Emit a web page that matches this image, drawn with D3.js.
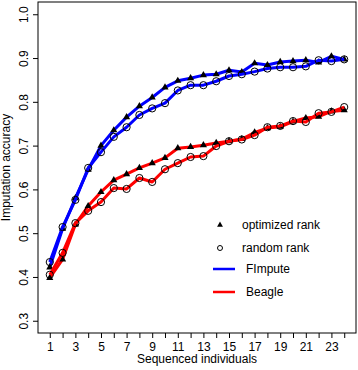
<!DOCTYPE html>
<html>
<head>
<meta charset="utf-8">
<script src="https://cdn.jsdelivr.net/npm/d3@7"></script>
<style>
  body { margin: 0; background: #fff; }
  svg { display: block; font-family: "Liberation Sans", Arial, sans-serif; }
</style>
</head>
<body>
<div id="chart"><svg></svg></div>
<script>
const individuals = d3.range(1, 25);
const xTickLabels = [1, 3, 5, 7, 9, 11, 13, 15, 17, 19, 21, 23];
const yTicks = [0.3, 0.4, 0.5, 0.6, 0.7, 0.8, 0.9, 1.0];

const fimputeOptimized = [0.422, 0.510, 0.580, 0.645, 0.700, 0.735, 0.765, 0.790, 0.810, 0.833, 0.848, 0.854,
  0.861, 0.863, 0.872, 0.868, 0.888, 0.884, 0.891, 0.893, 0.895, 0.890, 0.904, 0.897];
const fimputeRandom = [0.434, 0.514, 0.576, 0.649, 0.685, 0.720, 0.742, 0.770, 0.785, 0.797, 0.826, 0.838,
  0.838, 0.847, 0.859, 0.863, 0.869, 0.876, 0.879, 0.879, 0.881, 0.895, 0.893, 0.897];
const beagleOptimized = [0.398, 0.440, 0.520, 0.562, 0.594, 0.621, 0.635, 0.649, 0.660, 0.672, 0.694, 0.697,
  0.701, 0.706, 0.710, 0.715, 0.730, 0.740, 0.743, 0.755, 0.763, 0.766, 0.778, 0.781];
const beagleRandom = [0.405, 0.455, 0.523, 0.551, 0.571, 0.603, 0.601, 0.626, 0.617, 0.646, 0.660, 0.674,
  0.676, 0.699, 0.710, 0.714, 0.724, 0.742, 0.745, 0.756, 0.754, 0.774, 0.777, 0.788];

const margin = { top: 2, right: 2, bottom: 37, left: 38 },
  width = 358 - margin.left - margin.right,
  height = 370 - margin.top - margin.bottom;

const svg = d3
  .select("#chart svg")
  .attr("width", 358)
  .attr("height", 370)
  .append("g")
  .attr("transform", `translate(${margin.left},${margin.top})`);

// R style axis extension (4% each side)
const x = d3.scaleLinear().domain([0.08, 24.92]).range([0, width]);
const y = d3.scaleLinear().domain([0.272, 1.028]).range([height, 0]);

const line = d3
  .line()
  .x((d, i) => x(individuals[i]))
  .y((d) => y(d));

const series = [
  { values: fimputeOptimized, color: "#0000ff", marker: "triangle" },
  { values: fimputeRandom, color: "#0000ff", marker: "circle" },
  { values: beagleOptimized, color: "#ff0000", marker: "triangle" },
  { values: beagleRandom, color: "#ff0000", marker: "circle" },
];

const triangle = d3.symbol().type(d3.symbolTriangle).size(22);
const smallTriangle = d3.symbol().type(d3.symbolTriangle).size(15);

series.forEach((s) => {
  svg
    .append("path")
    .datum(s.values)
    .attr("d", line)
    .style("fill", "none")
    .style("stroke", s.color)
    .style("stroke-width", "3px")
    .style("stroke-linejoin", "round");

  const pts = svg
    .append("g")
    .selectAll("g")
    .data(s.values)
    .enter();

  if (s.marker === "triangle") {
    pts
      .append("path")
      .attr("d", triangle)
      .attr("transform", (d, i) => `translate(${x(individuals[i])},${y(d)})`)
      .style("fill", "#000");
  } else {
    pts
      .append("circle")
      .attr("cx", (d, i) => x(individuals[i]))
      .attr("cy", (d) => y(d))
      .attr("r", 3.6)
      .style("fill", "none")
      .style("stroke", "#000")
      .style("stroke-width", "1px");
  }
});

// box
svg
  .append("rect")
  .attr("width", width)
  .attr("height", height)
  .style("fill", "none")
  .style("stroke", "#000")
  .style("stroke-width", "1px");

// x axis
const xAxis = svg
  .append("g")
  .attr("transform", `translate(0,${height})`)
  .call(
    d3
      .axisBottom(x)
      .tickValues(individuals)
      .tickSize(5)
      .tickPadding(4)
      .tickFormat((d) => (xTickLabels.includes(d) ? d : ""))
  );
xAxis.select(".domain").remove();

// y axis
const yAxis = svg
  .append("g")
  .call(
    d3
      .axisLeft(y)
      .tickValues(yTicks)
      .tickSize(5)
      .tickFormat(d3.format(".1f"))
  );
yAxis.select(".domain").remove();
yAxis
  .selectAll("text")
  .attr("x", null)
  .attr("dy", null)
  .attr("transform", "translate(-10,0) rotate(-90)")
  .style("text-anchor", "middle");

svg.selectAll(".tick line").style("stroke", "#000");
svg
  .selectAll(".tick text")
  .style("font-family", "'Liberation Sans', Arial, sans-serif")
  .style("font-size", "12px")
  .style("fill", "#000");

// axis titles
svg
  .append("text")
  .attr("x", width / 2)
  .attr("y", height + 30)
  .style("text-anchor", "middle")
  .style("font-size", "12px")
  .text("Sequenced individuals");

svg
  .append("text")
  .attr("transform", `translate(${10 - margin.left},${height / 2}) rotate(-90)`)
  .style("text-anchor", "middle")
  .style("font-size", "12px")
  .text("Imputation accuracy");

// legend
const legend = svg.append("g").attr("transform", `translate(${-margin.left},${-margin.top})`);

legend
  .append("path")
  .attr("d", smallTriangle)
  .attr("transform", "translate(220,225)")
  .style("fill", "#000");
legend
  .append("circle")
  .attr("cx", 220)
  .attr("cy", 248)
  .attr("r", 2.5)
  .style("fill", "none")
  .style("stroke", "#000");
legend
  .append("line")
  .attr("x1", 213).attr("x2", 235).attr("y1", 269).attr("y2", 269)
  .style("stroke", "#0000ff").style("stroke-width", "2.5px");
legend
  .append("line")
  .attr("x1", 213).attr("x2", 235).attr("y1", 292).attr("y2", 292)
  .style("stroke", "#ff0000").style("stroke-width", "2.5px");

const legendLabels = [
  { text: "optimized rank", x: 242, y: 225 },
  { text: "random rank", x: 242, y: 248 },
  { text: "FImpute", x: 246, y: 269 },
  { text: "Beagle", x: 246, y: 292 },
];
legend
  .selectAll(".legend-label")
  .data(legendLabels)
  .enter()
  .append("text")
  .attr("class", "legend-label")
  .attr("x", (d) => d.x)
  .attr("y", (d) => d.y)
  .attr("dy", "0.35em")
  .style("font-size", "12px")
  .text((d) => d.text);
</script>
</body>
</html>
